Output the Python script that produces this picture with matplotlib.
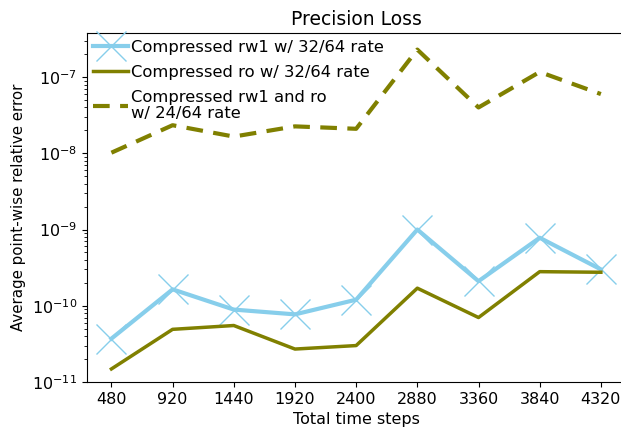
import numpy as np
import matplotlib
matplotlib.use("Agg")
import matplotlib.pyplot as plt

steps = ["480", "920", "1440", "1920", "2400", "2880", "3360", "3840", "4320"]
rw1_32 = [3.7e-11, 1.64e-10, 8.9e-11, 7.7e-11, 1.2e-10, 1.0e-9, 2.1e-10, 7.8e-10, 3.0e-10]
ro_32 = [1.48e-11, 4.9e-11, 5.5e-11, 2.7e-11, 3.0e-11, 1.7e-10, 7.0e-11, 2.8e-10, 2.75e-10]
rw1_ro_24 = [1.02e-8, 2.34e-8, 1.66e-8, 2.26e-8, 2.1e-8, 2.3e-7, 4.0e-8, 1.17e-7, 6.0e-8]

plt.rcParams.update({"font.family": "DejaVu Sans", "font.size": 11.5})

fig = plt.figure(figsize=(6.21, 4.34), dpi=100)
ax = fig.add_axes([0.140, 0.12, 0.867, 0.804])
x = np.arange(len(steps))
ax.plot(x, rw1_32, color="#87CEEB", lw=3, marker="x", ms=21, mew=1.0,
        label="Compressed rw1 w/ 32/64 rate")
ax.plot(x, ro_32, color="#808000", lw=2.5, label="Compressed ro w/ 32/64 rate")
ax.plot(x, rw1_ro_24, color="#808000", lw=3, ls=(0, (4, 2.5)),
        label="Compressed rw1 and ro\nw/ 24/64 rate")
ax.set_yscale("log")
ax.set_ylim(1e-11, 3.8e-7)
ax.set_xticks(x)
ax.set_xticklabels(steps)
ax.set_xlabel("Total time steps", labelpad=4)
ax.set_ylabel("Average point-wise relative error", fontsize=10.8)
ax.set_title("Precision Loss", fontsize=13.5)
leg = ax.legend(loc="upper left", frameon=False, borderaxespad=0.1, handletextpad=0.2,
                borderpad=0.3, labelspacing=0.63, handlelength=2.1, fontsize=11.8)
for t in leg.get_texts():
    t.set_linespacing(1.05)
fig.savefig("out.png", dpi=100)
